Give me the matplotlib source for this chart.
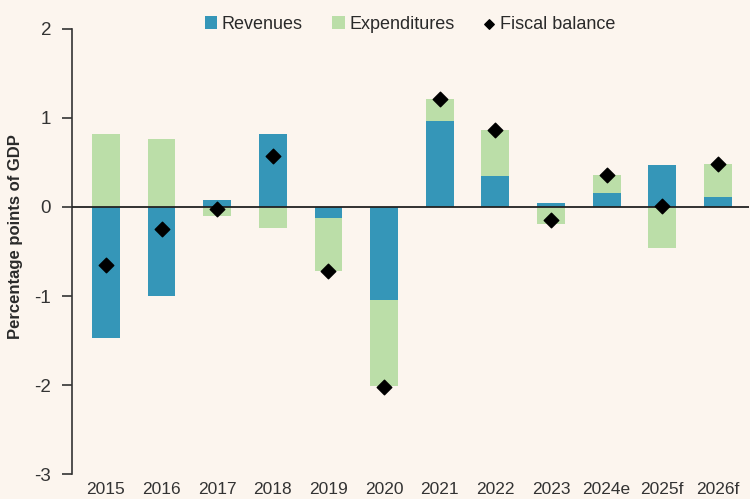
import matplotlib
matplotlib.use("Agg")
import matplotlib.pyplot as plt
import numpy as np

plt.rcParams['font.family'] = ['Liberation Sans', 'DejaVu Sans']

categories = ["2015", "2016", "2017", "2018", "2019", "2020", "2021", "2022",
              "2023", "2024e", "2025f", "2026f"]
revenues = [-1.47, -1.00, 0.08, 0.82, -0.12, -1.04, 0.97, 0.35, 0.04, 0.16, 0.47, 0.11]
expenditures = [0.82, 0.76, -0.10, -0.24, -0.60, -0.97, 0.24, 0.52, -0.19, 0.20, -0.46, 0.37]
fiscal_balance = [-0.65, -0.25, -0.02, 0.57, -0.72, -2.02, 1.21, 0.87, -0.15, 0.36, 0.01, 0.48]

BLUE = "#3596B8"
GREEN = "#BBDEA8"
BG = "#FCF5EE"
TXT = "#2A2A2A"

fig = plt.figure(figsize=(7.5, 4.99), dpi=100, facecolor=BG)
ax = fig.add_axes([0.096, 0.050, 0.902, 0.892], facecolor=BG)

x = np.arange(len(categories))
rev = np.array(revenues)
exp = np.array(expenditures)
exp_bottom = np.where(np.sign(exp) == np.sign(rev), rev, 0.0)

h1 = ax.bar(x, rev, width=0.5, color=BLUE, label="Revenues", zorder=2)
h2 = ax.bar(x, exp, width=0.5, bottom=exp_bottom, color=GREEN, label="Expenditures", zorder=2)
h3 = ax.scatter(x, fiscal_balance, marker="D", s=55, color="black", label="Fiscal balance", zorder=4)

ax.axhline(0, color="#222222", lw=1.3, zorder=3)

ax.set_xlim(-0.61, 11.55)
ax.set_ylim(-3, 2)
ax.set_yticks([-3, -2, -1, 0, 1, 2])
ax.set_yticklabels(["-3", "-2", "-1", "0", "1", "2"])
ax.set_xticks(x)
ax.set_xticklabels(categories)
ax.tick_params(axis="y", direction="out", length=7, width=1.2, color="#333333",
               labelsize=13.5, labelcolor="#333333", pad=8)
ax.tick_params(axis="x", length=0, labelsize=12.5, labelcolor="#333333", pad=6)
for s in ["top", "right", "bottom"]:
    ax.spines[s].set_visible(False)
ax.spines["left"].set_color("#333333")
ax.spines["left"].set_linewidth(1.2)

ax.set_ylabel("Percentage points of GDP", fontsize=12, fontweight="bold", color=TXT)
ax.yaxis.set_label_coords(-0.072, 0.533)

leg = ax.legend(handles=[h1, h2, h3], loc="center", bbox_to_anchor=(0.5, 1.01), ncol=3, frameon=False,
                fontsize=13, handlelength=0.7, handleheight=0.7, handletextpad=0.25,
                columnspacing=1.6, markerscale=0.65, borderpad=0)
for t in leg.get_texts():
    t.set_color(TXT)

fig.savefig("out.png", dpi=100, facecolor=BG)
